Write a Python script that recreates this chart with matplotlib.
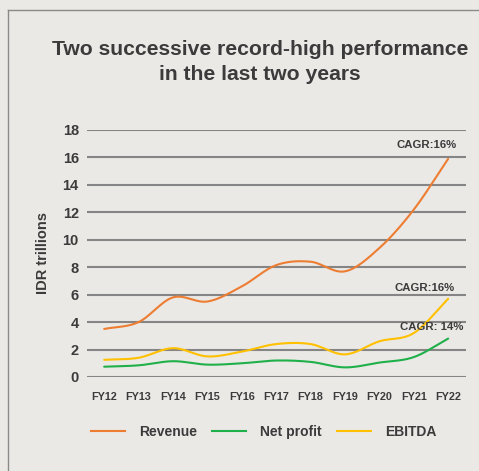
import numpy as np
import matplotlib
matplotlib.use("Agg")
import matplotlib.pyplot as plt
from matplotlib.lines import Line2D

# datos (IDR trillions)
years = ["FY12", "FY13", "FY14", "FY15", "FY16", "FY17", "FY18", "FY19", "FY20", "FY21", "FY22"]
revenue = [3.5, 4.0, 5.8, 5.5, 6.6, 8.15, 8.4, 7.7, 9.4, 12.2, 15.9]
net_profit = [0.75, 0.85, 1.15, 0.9, 1.0, 1.2, 1.1, 0.7, 1.05, 1.45, 2.8]
ebitda = [1.25, 1.4, 2.1, 1.5, 1.85, 2.4, 2.4, 1.65, 2.6, 3.2, 5.7]
cagr_labels = ["CAGR:16%", "CAGR:16%", "CAGR: 14%"]

plt.rcParams['font.family'] = ['Liberation Sans', 'DejaVu Sans']
txt = "#3b3b3b"
bg = "#ebe9e6"


def suavizar(x, y, n=30):
    # curva tipo Catmull-Rom (como la línea suavizada de Excel)
    x = np.asarray(x, float)
    y = np.asarray(y, float)
    px = np.concatenate([[2 * x[0] - x[1]], x, [2 * x[-1] - x[-2]]])
    py = np.concatenate([[2 * y[0] - y[1]], y, [2 * y[-1] - y[-2]]])
    xs, ys = [], []
    t = np.linspace(0, 1, n)
    for i in range(1, len(px) - 2):
        p0, p1, p2, p3 = py[i - 1], py[i], py[i + 1], py[i + 2]
        q0, q1, q2, q3 = px[i - 1], px[i], px[i + 1], px[i + 2]
        ys.append(0.5 * (2 * p1 + (-p0 + p2) * t + (2 * p0 - 5 * p1 + 4 * p2 - p3) * t ** 2 + (-p0 + 3 * p1 - 3 * p2 + p3) * t ** 3))
        xs.append(0.5 * (2 * q1 + (-q0 + q2) * t + (2 * q0 - 5 * q1 + 4 * q2 - q3) * t ** 2 + (-q0 + 3 * q1 - 3 * q2 + q3) * t ** 3))
    return np.concatenate(xs), np.concatenate(ys)


fig = plt.figure(figsize=(4.79, 4.71), dpi=100, facecolor=bg)
ax = fig.add_axes([0.182, 0.1996, 0.791, 0.5244], facecolor=bg)

x = np.arange(len(years))
series = [(revenue, "#ed7d31", "Revenue"), (net_profit, "#1fb04a", "Net profit"), (ebitda, "#ffc000", "EBITDA")]
for vals, col, lab in series:
    sx, sy = suavizar(x, vals)
    ax.plot(sx, sy, color=col, lw=1.5, label=lab, solid_capstyle="round")

ax.set_xlim(-0.494, 10.52)
ax.set_ylim(0, 18)
ax.set_yticks(np.arange(0, 19, 2))
ax.yaxis.grid(True, color="#858585", lw=1.5)
ax.set_axisbelow(True)
ax.set_xticks(x)
ax.set_xticklabels(years, fontsize=7.8, fontweight="bold", color=txt)
ax.tick_params(axis="x", length=0, pad=11)
ax.tick_params(axis="y", length=0, pad=6, labelsize=10.5, labelcolor=txt)
for t in ax.get_yticklabels():
    t.set_fontweight("bold")
for s in ax.spines.values():
    s.set_visible(False)
ax.set_ylabel("IDR trillions", fontsize=10.5, fontweight="bold", color=txt, labelpad=9)

# anotaciones CAGR
ax.text(10.25, revenue[-1] + 1.0, cagr_labels[0], ha="right", va="center", fontsize=8.2, fontweight="bold", color=txt)
ax.text(10.2, ebitda[-1] + 0.75, cagr_labels[1], ha="right", va="center", fontsize=8.2, fontweight="bold", color=txt)
ax.text(10.45, net_profit[-1] + 0.85, cagr_labels[2], ha="right", va="center", fontsize=8.2, fontweight="bold", color=txt)

# título
fig.text(0.543, 0.869, "Two successive record-high performance\nin the last two years", ha="center", va="center",
         fontsize=15.2, fontweight="bold", color=txt, linespacing=1.38)

# leyenda
handles = [Line2D([0], [0], color=c, lw=1.5) for _, c, _ in series]
fig.legend(handles, [l for _, _, l in series], loc="center", bbox_to_anchor=(0.55, 0.083), ncol=3,
           frameon=False, prop={"weight": "bold", "size": 10}, labelcolor=txt,
           handlelength=2.45, handletextpad=1.0, columnspacing=1.1)

# marco
fig.add_artist(Line2D([8 / 479, 8 / 479], [0, 1 - 10 / 471], color="#8a8a8a", lw=1, transform=fig.transFigure))
fig.add_artist(Line2D([8 / 479, 1], [1 - 10 / 471, 1 - 10 / 471], color="#8a8a8a", lw=1, transform=fig.transFigure))

plt.savefig("out.png", dpi=100, facecolor=bg)
